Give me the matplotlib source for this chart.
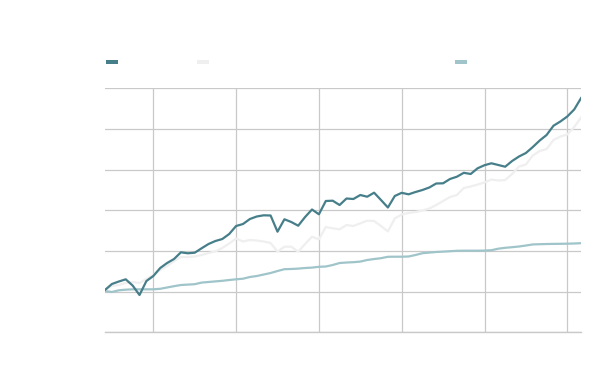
import matplotlib
matplotlib.use("Agg")
import matplotlib.pyplot as plt
import matplotlib.patches as ptch
import numpy as np

# annual series, index-like values
years = list(range(1953, 2023))

dark = [104.0, 118.8, 124.9, 130.3, 115.1, 91.7, 126.1, 138.4, 158.1, 170.4,
        180.2, 196.7, 194.3, 195.7, 206.6, 217.1, 224.5, 229.4, 241.7, 261.4,
        266.3, 278.6, 284.8, 287.7, 287.2, 247.4, 277.9, 271.2, 262.1, 283.5,
        302.0, 290.2, 322.9, 323.6, 313.0, 329.0, 327.8, 337.6, 333.4, 343.3,
        325.3, 306.9, 335.2, 343.0, 339.3, 345.0, 349.9, 356.1, 365.9, 366.4,
        377.0, 382.6, 392.2, 389.3, 403.3, 410.9, 415.6, 411.4, 407.2, 421.2,
        432.3, 440.9, 455.6, 471.6, 485.2, 508.0, 518.4, 530.7, 547.9, 576.1]

grey = [104.0, 113.9, 116.3, 121.2, 123.7, 121.2, 131.0, 140.8, 153.1, 162.9,
        175.2, 185.1, 185.1, 186.4, 190.1, 195.0, 198.7, 207.3, 218.4, 230.7,
        223.3, 227.0, 225.7, 223.3, 219.6, 198.2, 210.5, 210.5, 198.2, 217.1,
        235.1, 228.7, 258.9, 255.7, 253.3, 263.8, 261.4, 268.0, 274.4, 273.7,
        261.4, 247.9, 279.8, 289.7, 293.4, 295.8, 299.5, 304.4, 313.0, 322.9,
        332.7, 337.6, 354.8, 358.5, 363.4, 368.4, 375.7, 373.3, 374.5, 389.3,
        407.7, 412.6, 434.8, 445.8, 450.7, 472.9, 481.5, 486.4, 504.8, 528.2]

light = [101.6, 99.1, 103.3, 104.8, 105.7, 105.7, 105.7, 105.7, 107.0, 110.2,
         113.4, 116.3, 117.3, 118.3, 122.2, 123.7, 125.2, 126.6, 128.6, 130.3,
         131.8, 136.0, 138.4, 142.1, 145.8, 150.7, 155.2, 155.7, 156.6, 158.1,
         159.1, 161.1, 161.8, 165.5, 170.4, 171.6, 172.4, 173.9, 177.8, 180.2,
         182.2, 185.7, 185.9, 185.9, 186.4, 190.1, 194.5, 196.0, 197.5, 198.4,
         199.4, 200.4, 200.7, 200.7, 200.7, 200.9, 201.9, 205.6, 207.8, 209.3,
         211.0, 213.4, 216.1, 216.6, 217.1, 217.4, 217.6, 217.9, 218.4, 219.1]

c_dark = "#467e8a"
c_grey = "#efefef"
c_light = "#9fc4c9"
c_grid = "#c9c9c9"

fig = plt.figure(figsize=(6, 3.71), dpi=100)
ax = fig.add_axes([0.175, 0.1043, 0.7935, 0.6577])

ax.plot(years, light, color=c_light, lw=1.6, solid_joinstyle="round", zorder=3)
ax.plot(years, grey, color=c_grey, lw=1.6, solid_joinstyle="round", zorder=3)
ax.plot(years, dark, color=c_dark, lw=1.6, solid_joinstyle="round", zorder=4)

ax.set_xlim(years[0], years[-1])
ax.set_ylim(0, 600)
ax.set_xticks(range(1960, 2021, 12))
ax.set_yticks(range(0, 601, 100))
ax.grid(True, color=c_grid, lw=0.9)
ax.set_axisbelow(True)
ax.tick_params(length=0, labelbottom=False, labelleft=False)
for s in ["left", "right", "top"]:
    ax.spines[s].set_visible(False)
ax.spines["bottom"].set_color(c_grid)
ax.spines["bottom"].set_linewidth(1.0)

# legend swatches (labels are blank in the original)
for x0, col in [(106, c_dark), (197, c_grey), (455, c_light)]:
    fig.patches.append(ptch.Rectangle((x0 / 600, 1 - 63.8 / 371), 12 / 600, 3.8 / 371,
                                      transform=fig.transFigure, color=col, lw=0))

fig.savefig("out.png", dpi=100)
